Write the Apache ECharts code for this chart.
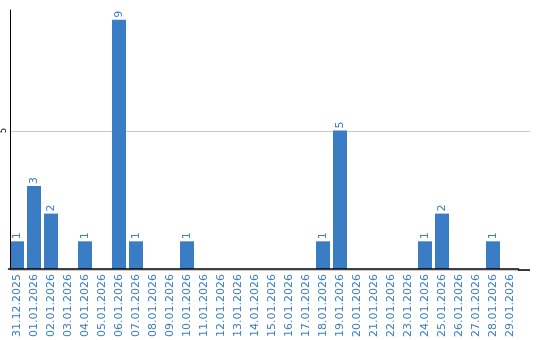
<!DOCTYPE html>
<html><head><meta charset="utf-8">
<script src="https://cdn.jsdelivr.net/npm/echarts@6/dist/echarts.min.js"></script>
<style>html,body{margin:0;padding:0;background:#fff}#c{width:540px;height:340px}</style>
</head><body><div id="c"></div>
<script>
var categories = ["31.12.2025","01.01.2026","02.01.2026","03.01.2026","04.01.2026","05.01.2026","06.01.2026","07.01.2026","08.01.2026","09.01.2026","10.01.2026","11.01.2026","12.01.2026","13.01.2026","14.01.2026","15.01.2026","16.01.2026","17.01.2026","18.01.2026","19.01.2026","20.01.2026","21.01.2026","22.01.2026","23.01.2026","24.01.2026","25.01.2026","26.01.2026","27.01.2026","28.01.2026","29.01.2026"];
var values = [1,3,2,0,1,0,9,1,0,0,1,0,0,0,0,0,0,0,1,5,0,0,0,0,1,2,0,0,1,0];
var yTicks = [5];
var blue = '#3b7dc4';
var chart = echarts.init(document.getElementById('c'), null, {renderer:'canvas'});
chart.setOption({
  animation:false,
  grid:[
    {left:8.5,right:21.5,top:10,bottom:70,containLabel:false},
    {left:10,right:10,top:131,bottom:70,containLabel:false}
  ],
  graphic:[{type:'line',silent:true,z:10,shape:{x1:518,y1:270,x2:530,y2:270},style:{stroke:'#000',lineWidth:1.5}}],
  xAxis:[{type:'category',data:categories,gridIndex:0,z:5,
    axisLine:{lineStyle:{color:'#000',width:1.5}},
    axisTick:{show:false},
    axisLabel:{rotate:90,interval:0,color:blue,fontFamily:'DejaVu Sans',fontSize:11,margin:5}},
    {type:'value',gridIndex:1,show:false,min:0,max:1}],
  yAxis:[{type:'value',min:0,max:9.35,interval:5,offset:-1.5,gridIndex:0,z:5,
    axisLine:{show:true,lineStyle:{color:'#000',width:1}},
    axisTick:{show:false},
    splitLine:{show:false},
    axisLabel:{rotate:90,color:'#000',fontFamily:'DejaVu Sans',fontSize:8,margin:2,
      align:'center',verticalAlign:'bottom',
      showMinLabel:false,showMaxLabel:false,
      formatter:function(v){return yTicks.indexOf(v)>=0?String(v):'';}}},
    {type:'value',gridIndex:1,min:0,max:yTicks[0],interval:yTicks[0],z:0,
      axisLine:{show:false},axisTick:{show:false},axisLabel:{show:false},
      splitLine:{show:true,lineStyle:{color:'#c8c8c8',width:1}}}],
  series:[{type:'bar',data:values.map(function(v){return v===0?null:v;}),
    xAxisIndex:0,yAxisIndex:0,z:2,
    barWidth:14,
    itemStyle:{color:blue},
    label:{show:true,position:'top',rotate:90,align:'left',verticalAlign:'middle',distance:2,
      color:blue,fontFamily:'DejaVu Sans',fontSize:11}
  }]
});
</script></body></html>
